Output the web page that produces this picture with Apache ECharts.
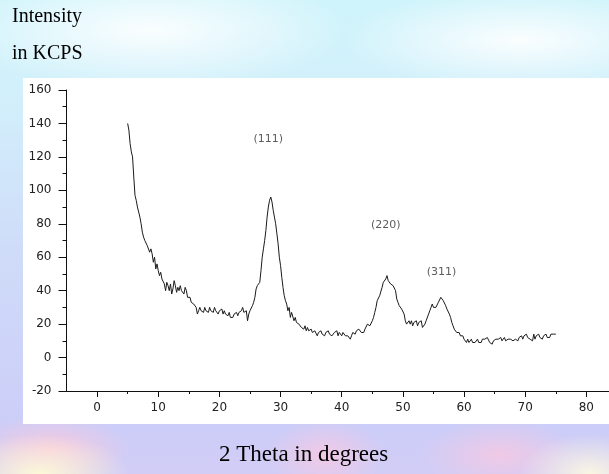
<!DOCTYPE html>
<html>
<head>
<meta charset="utf-8">
<script src="https://cdn.jsdelivr.net/npm/echarts@6/dist/echarts.min.js"></script>
<style>
  html, body { margin: 0; padding: 0; width: 609px; height: 474px; overflow: hidden; }
  body {
    position: relative;
    background:
      radial-gradient(ellipse 90px 40px at 40px 474px, rgba(255,250,215,0.95), rgba(255,250,215,0) 100%),
      radial-gradient(ellipse 70px 40px at 590px 474px, rgba(255,250,225,0.9), rgba(255,250,225,0) 100%),
      radial-gradient(ellipse 80px 35px at 50px 450px, rgba(250,200,220,0.95), rgba(250,200,220,0) 100%),
      radial-gradient(ellipse 60px 35px at 325px 455px, rgba(250,200,225,0.8), rgba(250,200,225,0) 100%),
      radial-gradient(ellipse 80px 35px at 500px 455px, rgba(248,200,225,0.8), rgba(248,200,225,0) 100%),
      radial-gradient(ellipse 200px 60px at 150px 30px, rgba(255,255,255,0.9), rgba(255,255,255,0) 100%),
      radial-gradient(ellipse 180px 50px at 520px 40px, rgba(255,255,255,0.9), rgba(255,255,255,0) 100%),
      linear-gradient(to bottom, #cff4fb 0px, #d2f0fb 90px, #cfdcf9 250px, #cccdf8 430px, #d2cdf6 474px);
  }
  #panel { position: absolute; left: 23px; top: 78px; width: 586px; height: 346px; background: #ffffff; }
  #chart { position: absolute; left: 0; top: 0; width: 609px; height: 474px; }
</style>
</head>
<body>
<div id="panel"></div>
<div id="chart"></div>
<script>
// ---- data (2-theta in degrees, intensity in KCPS) ----
const twoTheta = [
  5.0,5.2,5.4,5.6,5.8,6.0,6.2,6.4,6.6,6.8,7.0,7.2,7.4,7.6,7.8,8.0,8.2,8.4,8.6,8.8,
  9.0,9.2,9.4,9.6,9.8,10.0,10.2,10.4,10.6,10.8,11.0,11.2,11.4,11.6,11.8,12.0,12.2,12.4,12.6,12.8,
  13.0,13.2,13.4,13.6,13.8,14.0,14.2,14.4,14.6,14.8,15.0,15.2,15.4,15.6,15.8,16.0,16.2,16.4,16.6,16.8,
  17.0,17.2,17.4,17.6,17.8,18.0,18.2,18.4,18.6,18.8,19.0,19.2,19.4,19.6,19.8,20.0,20.2,20.4,20.6,20.8,
  21.0,21.2,21.4,21.6,21.8,22.0,22.2,22.4,22.6,22.8,23.0,23.2,23.4,23.6,23.8,24.0,24.2,24.4,24.6,24.8,
  25.0,25.2,25.4,25.6,25.8,26.0,26.2,26.4,26.6,26.8,27.0,27.2,27.4,27.6,27.8,28.0,28.2,28.4,28.6,28.8,
  29.0,29.2,29.4,29.6,29.8,30.0,30.2,30.4,30.6,30.8,31.0,31.2,31.4,31.6,31.8,32.0,32.2,32.4,32.6,32.8,
  33.0,33.2,33.4,33.6,33.8,34.0,34.2,34.4,34.6,34.8,35.0,35.2,35.4,35.6,35.8,36.0,36.2,36.4,36.6,36.8,
  37.0,37.2,37.4,37.6,37.8,38.0,38.2,38.4,38.6,38.8,39.0,39.2,39.4,39.6,39.8,40.0,40.2,40.4,40.6,40.8,
  41.0,41.2,41.4,41.6,41.8,42.0,42.2,42.4,42.6,42.8,43.0,43.2,43.4,43.6,43.8,44.0,44.2,44.4,44.6,44.8,
  45.0,45.2,45.4,45.6,45.8,46.0,46.2,46.4,46.6,46.8,47.0,47.2,47.4,47.6,47.8,48.0,48.2,48.4,48.6,48.8,
  49.0,49.2,49.4,49.6,49.8,50.0,50.2,50.4,50.6,50.8,51.0,51.2,51.4,51.6,51.8,52.0,52.2,52.4,52.6,52.8,
  53.0,53.2,53.4,53.6,53.8,54.0,54.2,54.4,54.6,54.8,55.0,55.2,55.4,55.6,55.8,56.0,56.2,56.4,56.6,56.8,
  57.0,57.2,57.4,57.6,57.8,58.0,58.2,58.4,58.6,58.8,59.0,59.2,59.4,59.6,59.8,60.0,60.2,60.4,60.6,60.8,
  61.0,61.2,61.4,61.6,61.8,62.0,62.2,62.4,62.6,62.8,63.0,63.2,63.4,63.6,63.8,64.0,64.2,64.4,64.6,64.8,
  65.0,65.2,65.4,65.6,65.8,66.0,66.2,66.4,66.6,66.8,67.0,67.2,67.4,67.6,67.8,68.0,68.2,68.4,68.6,68.8,
  69.0,69.2,69.4,69.6,69.8,70.0,70.2,70.4,70.6,70.8,71.0,71.2,71.4,71.6,71.8,72.0,72.2,72.4,72.6,72.8,
  73.0,73.2,73.4,73.6,73.8,74.0,74.2,74.4,74.6,74.8,75.0
];
const intensity = [
  140,136,128,123,120,108,97,94,90,87,84,80,75,72,70,69,67,66,63,65,
  62,57,60,53,56,52,49,51,47,48,44,40,45,43,40,44,38,41,46,43,
  39,42,40,43,40,41,38,42,40,36,35,36,33,34,32,31,30,26,28,30,
  28,29,27,30,28,29,27,30,28,29,27,30,28,29,26,28,27,29,26,28,
  26,27,25,27,24,25,24,26,25,27,25,27,26,28,30,27,26,28,22,26,
  28,29,31,33,36,41,43,44,45,52,60,65,70,76,84,90,94,96,93,88,
  84,80,74,68,60,55,48,42,37,34,32,28,30,24,27,26,22,24,21,22,
  20,21,18,19,17,19,16,18,16,15,17,15,14,16,15,13,15,14,16,14,
  15,13,15,14,16,14,15,13,14,15,14,16,13,15,14,13,15,14,13,12,
  13,12,11,13,15,16,14,16,15,17,16,15,16,15,17,18,20,21,19,19,
  22,24,27,30,34,35,37,38,42,45,46,47,49,46,47,44,45,43,44,40,
  35,33,31,30,29,28,26,22,20,21,22,20,22,19,21,20,22,19,21,20,
  22,18,17,20,22,23,26,28,30,32,30,29,30,31,33,34,36,35,34,33,
  31,29,28,26,24,21,19,17,16,15,14,15,13,12,13,11,12,9,11,9,
  10,11,9,10,9,10,11,9,10,9,11,10,11,10,12,11,9,10,8,10,
  9,11,10,11,10,12,10,11,12,10,9,11,10,11,12,10,11,11,12,10,
  12,11,13,11,13,12,14,12,13,11,12,10,14,11,13,12,14,12,13,11,
  13,12,14,12,13,12,14,13,14,13,14
];
const peakNames = ['(111)', '(220)', '(311)'];
const peakX = [28.0, 47.2, 56.3];
const peakY = [130.5, 79, 51];
const yTicks = { min: -20, max: 160, step: 20 };
const xTicks = { min: 0, max: 83.7, step: 10 };

const chart = echarts.init(document.getElementById('chart'), null, { renderer: 'canvas' });
const axisFont = { fontFamily: 'DejaVu Sans', fontSize: 12, color: '#222' };

chart.setOption({
  animation: false,
  backgroundColor: 'transparent',
  grid: [
    { left: 66.5, right: 0, top: 90, bottom: 83 },
    { left: 97.1, right: 0, top: 90, bottom: 83 }
  ],
  xAxis: [
    {
      gridIndex: 0, type: 'value', min: -5, max: 83.7, position: 'bottom',
      axisLine: { show: true, onZero: false, lineStyle: { color: '#111', width: 1 } },
      axisTick: { show: false }, axisLabel: { show: false }, splitLine: { show: false }
    },
    {
      gridIndex: 1, type: 'value', min: xTicks.min, max: xTicks.max, interval: xTicks.step, position: 'bottom',
      axisLine: { show: false, onZero: false },
      axisTick: { show: true, length: 6, lineStyle: { color: '#111', width: 1 } },
      minorTick: { show: true, splitNumber: 2, length: 3, lineStyle: { color: '#111', width: 1 } },
      axisLabel: Object.assign({ margin: 11, showMaxLabel: false }, axisFont),
      splitLine: { show: false }
    }
  ],
  yAxis: [
    {
      gridIndex: 0, type: 'value', min: yTicks.min, max: yTicks.max, interval: yTicks.step, position: 'left',
      axisLine: { show: true, onZero: false, lineStyle: { color: '#111', width: 1 } },
      axisTick: { show: true, length: 8, lineStyle: { color: '#111', width: 1 } },
      minorTick: { show: true, splitNumber: 2, length: 4, lineStyle: { color: '#111', width: 1 } },
      axisLabel: Object.assign({ margin: 15 }, axisFont),
      splitLine: { show: false }
    },
    { gridIndex: 1, type: 'value', min: yTicks.min, max: yTicks.max, show: false, axisLine: { onZero: false } }
  ],
  series: [
    {
      type: 'line', xAxisIndex: 0, yAxisIndex: 0,
      data: twoTheta.map((t, i) => [t, intensity[i]]),
      showSymbol: false, symbol: 'none',
      lineStyle: { color: '#1a1a1a', width: 1 }
    },
    {
      type: 'scatter', xAxisIndex: 0, yAxisIndex: 0,
      data: peakX.map((x, i) => [x, peakY[i]]),
      symbolSize: 1, itemStyle: { color: 'transparent' },
      label: {
        show: true, position: 'inside',
        formatter: p => peakNames[p.dataIndex],
        fontFamily: 'DejaVu Sans', fontSize: 11, color: '#333'
      }
    }
  ],
  graphic: [
    { type: 'text', left: 12, top: 7, style: { text: 'Intensity', font: '20px "Liberation Serif"', fill: '#000' } },
    { type: 'text', left: 12, top: 44, style: { text: 'in KCPS', font: '20px "Liberation Serif"', fill: '#000' } },
    { type: 'text', left: 219, top: 443, style: { text: '2 Theta in degrees', font: '23px "Liberation Serif"', fill: '#000' } }
  ]
});
</script>
</body>
</html>
